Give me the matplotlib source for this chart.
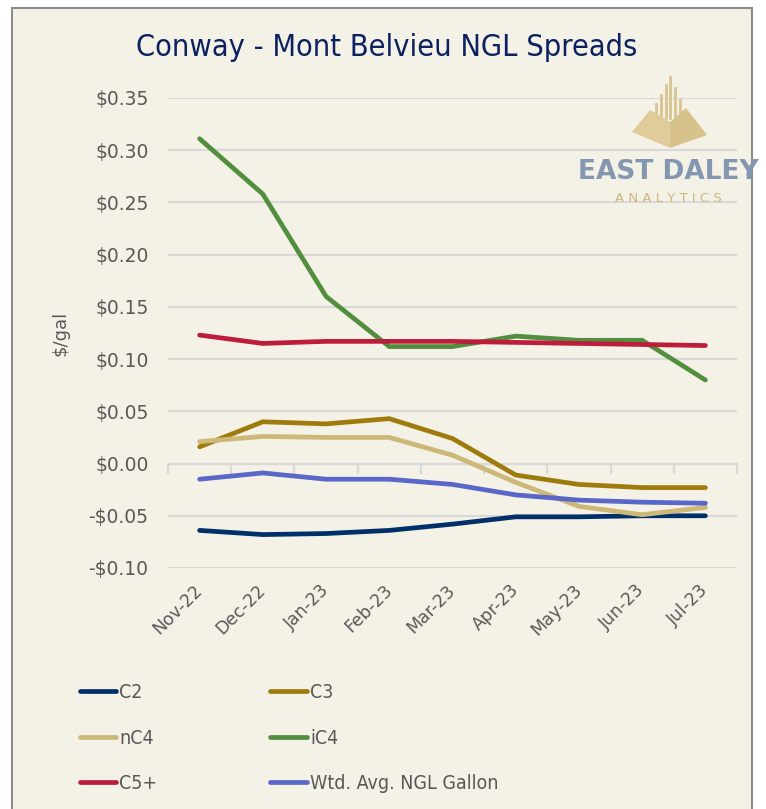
import numpy as np
import matplotlib.pyplot as plt
from matplotlib.patches import Rectangle, Polygon
from matplotlib.lines import Line2D

months = ["Nov-22", "Dec-22", "Jan-23", "Feb-23", "Mar-23", "Apr-23", "May-23", "Jun-23", "Jul-23"]
c2 = [-0.064, -0.068, -0.067, -0.064, -0.058, -0.051, -0.051, -0.050, -0.050]
c3 = [0.016, 0.040, 0.038, 0.043, 0.024, -0.011, -0.020, -0.023, -0.023]
nc4 = [0.021, 0.026, 0.025, 0.025, 0.008, -0.018, -0.041, -0.049, -0.042]
ic4 = [0.311, 0.258, 0.160, 0.112, 0.112, 0.122, 0.118, 0.118, 0.080]
c5 = [0.123, 0.115, 0.117, 0.117, 0.117, 0.116, 0.115, 0.114, 0.113]
wtd = [-0.015, -0.009, -0.015, -0.015, -0.020, -0.030, -0.035, -0.037, -0.038]
yticks = [-0.10, -0.05, 0.00, 0.05, 0.10, 0.15, 0.20, 0.25, 0.30, 0.35]

W, H = 766, 809
bg = "#f4f1e6"
fig = plt.figure(figsize=(W / 100, H / 100), dpi=100, facecolor="white")

# framed panel
fig.patches.append(Rectangle((12 / W, -0.01), 740 / W, 1 - 8 / H + 0.01, transform=fig.transFigure,
                             facecolor=bg, edgecolor="#8c8c8c", lw=1.5, zorder=-5))

ax = fig.add_axes([168 / W, 1 - 568 / H, 569 / W, 470 / H])
ax.set_facecolor("none")
x = np.arange(len(months))

series = [
    ("C2", c2, "#00306a"),
    ("C3", c3, "#9f7b0e"),
    ("nC4", nc4, "#cdb878"),
    ("iC4", ic4, "#528e3e"),
    ("C5+", c5, "#bd1d3a"),
    ("Wtd. Avg. NGL Gallon", wtd, "#5867c8"),
]
handles = {}
for name, vals, col in series:
    ln, = ax.plot(x, vals, color=col, lw=3.4, solid_capstyle="round", solid_joinstyle="miter", zorder=3)
    handles[name] = ln

ax.set_xlim(-0.5, len(months) - 0.5)
ax.set_ylim(-0.10, 0.35)
ax.set_yticks(yticks)
ax.set_yticklabels([("-$%.2f" % -v) if v < 0 else ("$%.2f" % v) for v in yticks])
ax.grid(axis="y", color="#d9d9d9", lw=1.5, zorder=1)
for s in ax.spines.values():
    s.set_visible(False)
ax.tick_params(axis="y", length=0, pad=14, labelsize=13.5, labelcolor="#595959")
ax.set_xticks(x)
ax.set_xticklabels(months, rotation=45, ha="right", va="center", rotation_mode="anchor")
ax.tick_params(axis="x", length=0, pad=14, labelsize=12.5, labelcolor="#595959")
ax.set_ylabel("$/gal", fontsize=13, color="#595959", labelpad=14)

# category axis crossing at zero
sec = ax.secondary_xaxis((0 - (-0.10)) / 0.45)
sec.set_xticks(np.arange(len(months) + 1) - 0.5)
sec.set_xticklabels([])
sec.tick_params(axis="x", direction="out", length=7, width=1.5, color="#d9d9d9")
sec.spines["bottom"].set_color("#d9d9d9")
sec.spines["bottom"].set_linewidth(1.5)

fig.text(387 / W, 1 - 48 / H, "Conway - Mont Belvieu NGL Spreads", ha="center", va="center",
         fontsize=22, color="#0b2160", family="DejaVu Sans", fontstretch="condensed")

order = ["C2", "nC4", "C5+", "C3", "iC4", "Wtd. Avg. NGL Gallon"]
leg = fig.legend([handles[n] for n in order], order, ncol=2, loc="center left",
                 bbox_to_anchor=(62 / W, 1 - 738 / H), frameon=False, handlelength=1.9,
                 handletextpad=0.15, columnspacing=5.8, labelspacing=1.35,
                 prop={"family": "DejaVu Sans", "stretch": "condensed", "size": 14})
for t in leg.get_texts():
    t.set_color("#595959")

# logo
def fp(px, py):
    return (px / W, 1 - py / H)

for bx, top in zip([656, 661, 666, 670, 675, 680], [104, 95, 85, 77, 88, 100]):
    fig.lines.append(Line2D([bx / W, bx / W], [1 - top / H, 1 - 118 / H], transform=fig.transFigure,
                            color="#d9c48f", lw=2, zorder=1))
fig.patches.append(Polygon([fp(632, 132), fp(650, 110), fp(670, 122), fp(670, 148)], closed=True,
                           transform=fig.transFigure, facecolor="#e0cc9a", edgecolor="none", zorder=2))
fig.patches.append(Polygon([fp(670, 122), fp(686, 108), fp(707, 135), fp(670, 148)], closed=True,
                           transform=fig.transFigure, facecolor="#d8c28c", edgecolor="none", zorder=2))
fig.text(668 / W, 1 - 172 / H, "EAST DALEY", ha="center", va="center", fontsize=19,
         fontweight="bold", color="#8497b0", family="DejaVu Sans")
fig.text(668 / W, 1 - 199 / H, "A N A L Y T I C S", ha="center", va="center", fontsize=9.5,
         color="#cdb882", family="DejaVu Sans")

fig.savefig("out.png", dpi=100, facecolor=fig.get_facecolor())
